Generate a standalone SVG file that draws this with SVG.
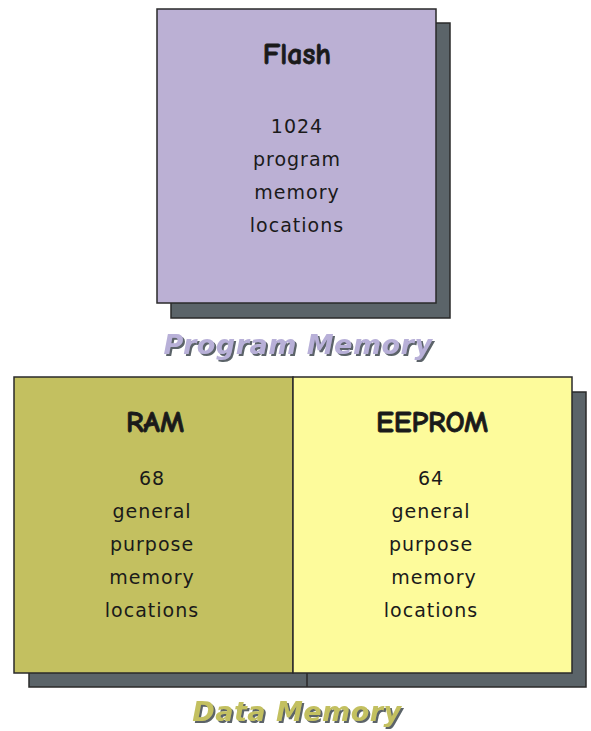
<svg xmlns="http://www.w3.org/2000/svg" width="591" height="731" viewBox="0 0 591 731">
  <defs>
    <!-- grey drop shadow behind the caption lettering -->
    <filter id="caption-shadow" x="-5%" y="-20%" width="110%" height="150%">
      <feOffset in="SourceAlpha" dx="2" dy="2" result="off"/>
      <feFlood flood-color="#5b6469"/>
      <feComposite in2="off" operator="in" result="shade"/>
      <feMerge>
        <feMergeNode in="shade"/>
        <feMergeNode in="SourceGraphic"/>
      </feMerge>
    </filter>
  </defs>
  <style>
    .shadow { fill: #5b6469; stroke: #2a2a2a; stroke-width: 1.5; }
    .box { stroke: #2a2a2a; stroke-width: 1.5; }
    .title { font-family: "Comic Neue", "DejaVu Sans", sans-serif; font-weight: bold; font-size: 30px; fill: #1a1a1a; stroke: #1a1a1a; stroke-width: 0.8px; text-anchor: middle; }
    .body { font-family: "DejaVu Sans", sans-serif; font-size: 19px; letter-spacing: 1px; fill: #1a1a1a; text-anchor: middle; }
    .caption { font-family: "DejaVu Sans", sans-serif; font-weight: bold; font-style: italic; font-size: 27px; text-anchor: middle; letter-spacing: 0.5px; filter: url(#caption-shadow); }
  </style>

  <!-- Program memory: Flash -->
  <g id="flash">
    <rect class="shadow" x="171" y="23" width="279" height="295"/>
    <rect class="box" x="157" y="9" width="279" height="294" fill="#bbb0d4"/>
    <text class="title" x="297" y="64">Flash</text>
    <text class="body" x="297" y="133">1024</text>
    <text class="body" x="297" y="166">program</text>
    <text class="body" x="297" y="199">memory</text>
    <text class="body" x="297" y="232">locations</text>
  </g>

  <g id="program-memory-label">
    <text class="caption" x="298" y="354" fill="#b8b0d8">Program Memory</text>
  </g>

  <!-- Data memory: shared shadow under both halves -->
  <g id="data-shadow">
    <rect class="shadow" x="29" y="392" width="557" height="295"/>
    <line x1="307" y1="673" x2="307" y2="687" stroke="#2a2a2a" stroke-width="1.5"/>
  </g>

  <g id="ram">
    <rect class="box" x="14" y="377" width="279" height="296" fill="#c3c060"/>
    <text class="title" x="155" y="432">RAM</text>
    <text class="body" x="152" y="485">68</text>
    <text class="body" x="152" y="518">general</text>
    <text class="body" x="152" y="551">purpose</text>
    <text class="body" x="152" y="584">memory</text>
    <text class="body" x="152" y="617">locations</text>
  </g>

  <g id="eeprom">
    <rect class="box" x="293" y="377" width="279" height="296" fill="#fdfb9b"/>
    <text class="title" x="432" y="432">EEPROM</text>
    <text class="body" x="431" y="485">64</text>
    <text class="body" x="431" y="518">general</text>
    <text class="body" x="431" y="551">purpose</text>
    <text class="body" x="434" y="584">memory</text>
    <text class="body" x="431" y="617">locations</text>
  </g>

  <g id="data-memory-label">
    <text class="caption" x="297" y="721" fill="#c3c060">Data Memory</text>
  </g>
</svg>
